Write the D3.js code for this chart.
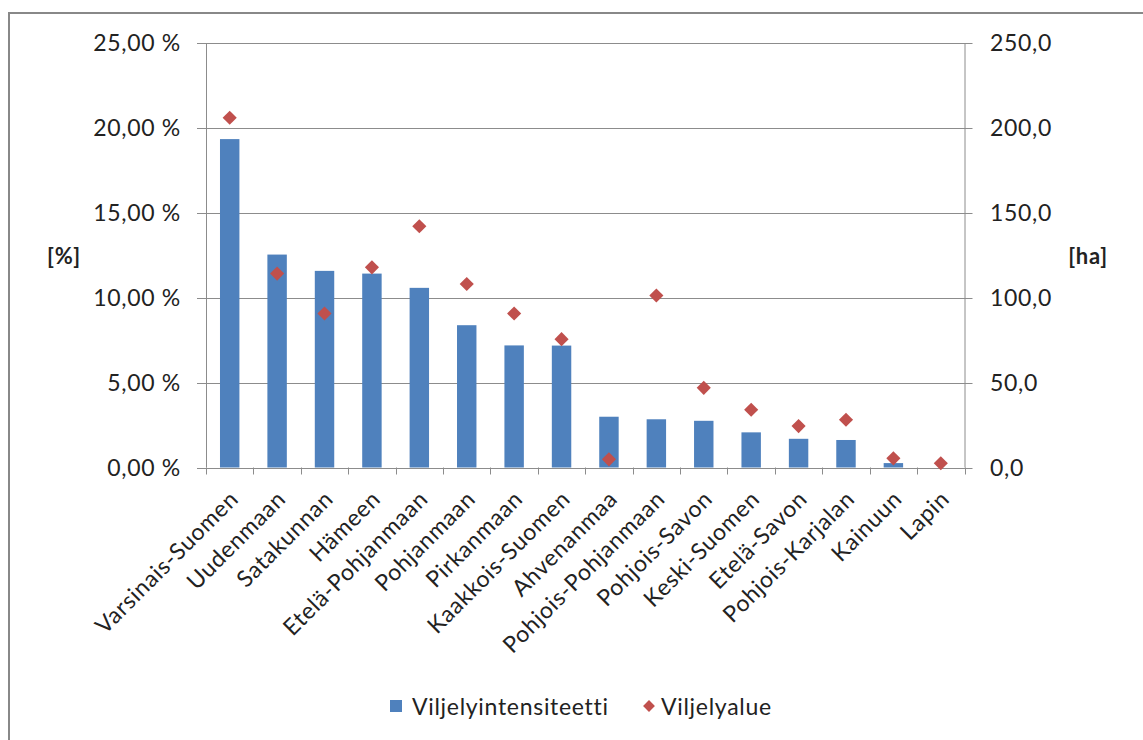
<!DOCTYPE html>
<html><head><meta charset="utf-8">
<script src="https://cdn.jsdelivr.net/npm/d3@7/dist/d3.min.js"></script>
<style>body{margin:0;background:#fff}svg{display:block}text{font-family:Lato,"Open Sans",sans-serif;fill:#222;letter-spacing:0.7px}</style>
</head><body><svg id="c" width="1143" height="740"></svg>
<script>
const categories = ["Varsinais-Suomen","Uudenmaan","Satakunnan","Hämeen","Etelä-Pohjanmaan","Pohjanmaan","Pirkanmaan","Kaakkois-Suomen","Ahvenanmaa","Pohjois-Pohjanmaan","Pohjois-Savon","Keski-Suomen","Etelä-Savon","Pohjois-Karjalan","Kainuun","Lapin"];
const intensity = [19.34,12.54,11.58,11.42,10.58,8.38,7.19,7.18,2.99,2.84,2.75,2.07,1.69,1.62,0.26,0];
const area = [206.0,114.2,90.7,117.9,142.1,108.1,90.7,75.6,4.8,101.3,46.9,34.0,24.4,28.1,5.4,2.5];
const leftTicks = [0,5,10,15,20,25];
const rightTicks = [0,50,100,150,200,250];
const seriesNames = ["Viljelyintensiteetti","Viljelyalue"];

const svg = d3.select("#c");
const L=206, R=964.5, T=43, B=467.5;
const grid="#8c8c8c";
svg.append("rect").attr("x",9).attr("y",13).attr("width",1200).attr("height",800).attr("fill","none").attr("stroke","#888").attr("stroke-width",2);

const x = d3.scaleBand().domain(categories).range([L,R]).paddingInner(0.59).paddingOuter(0.295);
const xb = d3.scaleBand().domain(categories).range([L,R]);
const yL = d3.scaleLinear().domain([0,25]).range([B,T]);
const yR = d3.scaleLinear().domain([0,250]).range([B,T]);

svg.append("g").selectAll("line").data(leftTicks).join("line")
 .attr("x1",L-9).attr("x2",R+8).attr("y1",d=>Math.round(yL(d))+0.5).attr("y2",d=>Math.round(yL(d))+0.5)
 .attr("stroke",grid).attr("stroke-width",1);
[L,R].forEach(px=>svg.append("line").attr("x1",px+0.5).attr("x2",px+0.5).attr("y1",T).attr("y2",B).attr("stroke",grid));
svg.append("g").selectAll("line").data(d3.range(categories.length+1)).join("line")
 .attr("x1",i=>Math.round(L+i*xb.bandwidth())+0.5).attr("x2",i=>Math.round(L+i*xb.bandwidth())+0.5)
 .attr("y1",B).attr("y2",B+7).attr("stroke",grid);

const fmtL = d=>d.toFixed(2).replace(".",",")+" %";
const fmtR = d=>d.toFixed(1).replace(".",",");
svg.append("g").selectAll("text").data(leftTicks).join("text")
 .attr("x",181).attr("y",d=>yL(d)).attr("dy","0.35em").attr("text-anchor","end")
 .style("font-size","23px").text(fmtL);
svg.append("g").selectAll("text").data(rightTicks).join("text")
 .attr("x",990).attr("y",d=>yR(d)).attr("dy","0.35em").attr("text-anchor","start")
 .style("font-size","23px").text(fmtR);

svg.append("text").attr("x",64).attr("y",256).attr("dy","0.35em").attr("text-anchor","middle").style("font-size","22px").style("font-weight","bold").text("[%]");
svg.append("text").attr("x",1088).attr("y",256).attr("dy","0.35em").attr("text-anchor","middle").style("font-size","22px").style("font-weight","bold").text("[ha]");

svg.append("g").selectAll("rect").data(categories).join("rect")
 .attr("x",d=>x(d)).attr("width",x.bandwidth())
 .attr("y",(d,i)=>yL(intensity[i])).attr("height",(d,i)=>B-yL(intensity[i]))
 .attr("fill","#4F81BD");
const dia = d3.symbol().type(d3.symbolSquare).size(100);
svg.append("g").selectAll("path").data(categories).join("path")
 .attr("d",dia)
 .attr("transform",(d,i)=>`translate(${xb(d)+xb.bandwidth()/2},${yR(area[i])}) rotate(45)`)
 .attr("fill","#C0504D");

svg.append("g").selectAll("text").data(categories).join("text")
 .attr("transform",d=>`translate(${xb(d)+xb.bandwidth()/2+10},${B+33}) rotate(-45)`)
 .attr("text-anchor","end").style("font-size","23px").text(d=>d);

svg.append("rect").attr("x",390).attr("y",700).attr("width",12).attr("height",12).attr("fill","#4F81BD");
svg.append("text").attr("x",412).attr("y",707).attr("dy","0.35em").style("font-size","23px").text(seriesNames[0]);
svg.append("path").attr("d",d3.symbol().type(d3.symbolSquare).size(70)).attr("transform","translate(649,706) rotate(45)").attr("fill","#C0504D");
svg.append("text").attr("x",661).attr("y",707).attr("dy","0.35em").style("font-size","23px").text(seriesNames[1]);
</script></body></html>
